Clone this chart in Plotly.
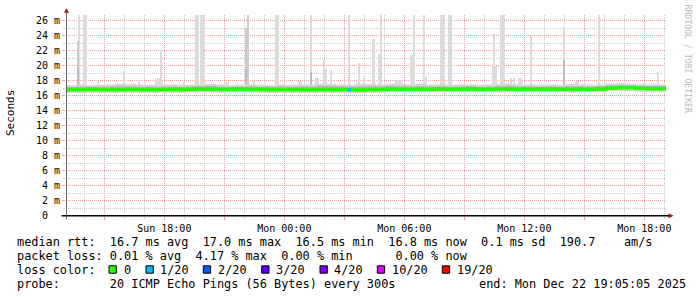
import plotly.graph_objects as go
import pandas as pd

W, H = 697, 297

# ---------------- data ----------------
START = "2025-12-21 13:05:05"
END = "2025-12-22 19:05:05"
SUN = "2025-12-21 "
MON = "2025-12-22 "

# 30-minute blocks starting at START
median_rtt = [
    16.78, 16.80, 16.82, 16.80, 16.78, 16.80, 16.83, 16.80, 16.78, 16.80, 16.82, 16.80,
    16.85, 16.88, 16.85, 16.82, 16.85, 16.88, 16.85, 16.82, 16.80, 16.80, 16.78, 16.78,
    16.78, 16.80, 16.78, 16.80, 16.78, 16.76, 16.80, 16.82, 16.85, 16.85, 16.85, 16.85,
    16.85, 16.88, 16.85, 16.85, 16.88, 16.85, 16.85, 16.88, 16.85, 16.85, 16.85, 16.85,
    16.85, 16.85, 16.83, 16.85, 16.85, 16.88, 17.00, 17.05, 17.05, 16.98, 16.93, 16.93,
]
smoke_lo = [
    16.38, 16.36, 16.40, 16.38, 16.36, 16.38, 16.40, 16.38, 16.36, 16.40, 16.38, 16.38,
    16.40, 16.42, 16.40, 16.38, 16.40, 16.42, 16.40, 16.38, 16.36, 16.38, 16.36, 16.36,
    16.36, 16.38, 16.36, 16.38, 16.34, 16.34, 16.38, 16.40, 16.42, 16.42, 16.40, 16.42,
    16.42, 16.44, 16.42, 16.42, 16.44, 16.42, 16.42, 16.44, 16.42, 16.42, 16.42, 16.42,
    16.42, 16.42, 16.40, 16.42, 16.42, 16.44, 16.56, 16.60, 16.60, 16.54, 16.50, 16.50,
]
smoke_mid = [
    17.15, 17.20, 17.18, 17.20, 17.22, 17.25, 17.22, 17.20, 17.18, 17.20, 17.22, 17.18,
    17.22, 17.25, 17.28, 17.22, 17.18, 17.20, 17.22, 17.20, 17.18, 17.22, 17.20, 17.22,
    17.22, 17.28, 17.25, 17.22, 17.20, 17.25, 17.25, 17.22, 17.28, 17.25, 17.22, 17.25,
    17.22, 17.22, 17.20, 17.22, 17.25, 17.20, 17.22, 17.25, 17.28, 17.22, 17.22, 17.20,
    17.22, 17.20, 17.25, 17.22, 17.20, 17.25, 17.35, 17.40, 17.38, 17.30, 17.28, 17.28,
]
smoke_hi = [
    17.40, 17.50, 17.40, 17.45, 17.50, 17.60, 17.55, 17.50, 17.45, 17.50, 17.50, 17.45,
    17.45, 17.50, 17.55, 17.50, 17.40, 17.45, 17.50, 17.45, 17.40, 17.50, 17.45, 17.50,
    17.50, 17.60, 17.55, 17.50, 17.45, 17.60, 17.55, 17.50, 17.60, 17.55, 17.50, 17.55,
    17.50, 17.50, 17.45, 17.50, 17.50, 17.45, 17.50, 17.55, 17.60, 17.50, 17.50, 17.45,
    17.50, 17.45, 17.55, 17.50, 17.45, 17.50, 17.60, 17.65, 17.60, 17.55, 17.50, 17.50,
]

# light grey spikes (max pings)
spike_sun_time = ["13:45", "14:00", "14:05", "14:40", "16:00", "16:45", "17:35", "17:40",
                  "17:45", "17:50", "19:00", "19:35", "19:40", "19:50", "19:55", "21:05",
                  "21:10", "22:30", "23:35", "23:40"]
spike_sun_top = [26.9, 26.9, 26.9, 17.9, 19.3, 18.1, 18.2, 18.3,
                 18.2, 22.1, 17.9, 26.9, 26.9, 26.9, 26.9, 17.8,
                 17.8, 17.9, 26.9, 26.9]
spike_mon_time = ["00:45", "00:50", "01:20", "01:35", "01:40", "02:00", "02:05", "02:20",
                  "03:15", "03:45", "04:00", "04:25", "04:30", "04:45", "04:50", "05:35",
                  "05:40", "05:45", "05:50", "06:20", "06:25", "06:30", "07:00", "07:05",
                  "07:50", "07:55", "08:00", "08:15", "08:20", "10:25", "10:30", "10:35",
                  "10:50", "10:55", "11:20", "11:30", "11:45", "11:50", "12:20", "14:00",
                  "14:35", "14:40", "15:45", "18:40"]
spike_mon_top = [18.0, 18.0, 26.9, 18.3, 18.3, 20.8, 19.6, 19.4,
                 26.9, 20.4, 18.5, 23.6, 23.6, 21.6, 26.9, 18.1,
                 18.1, 18.1, 18.1, 21.4, 21.4, 26.9, 26.9, 18.5,
                 26.9, 26.9, 17.9, 26.9, 26.9, 20.0, 24.2, 20.0,
                 26.9, 26.9, 18.3, 18.3, 18.3, 18.3, 24.0, 25.1,
                 18.0, 18.0, 26.9, 19.2]
# medium grey spikes
mid_spike_time = [SUN + "13:40", SUN + "22:05", SUN + "22:10"]
mid_spike_top = [23.3, 25.0, 26.9]
# darker inner parts of spikes
inner_spike_time = [SUN + "13:40", MON + "01:20", MON + "14:00", SUN + "22:05"]
inner_spike_top = [19.7, 19.1, 20.8, 19.5]

# packet-loss coloured median segment (1/20 loss)
loss_time = [MON + "03:10", MON + "03:20"]
loss_rtt = [16.76, 16.76]

y_ticks = list(range(0, 27, 2))
y_ticktext = ["0\u00a0\u00a0"] + [f"{v} m" for v in y_ticks[1:]]
x_ticks = [SUN + "15:00", SUN + "18:00", SUN + "21:00", MON + "00:00", MON + "03:00",
           MON + "06:00", MON + "09:00", MON + "12:00", MON + "15:00", MON + "18:00"]
x_ticktext = ["", "Sun 18:00", "", "Mon 00:00", "", "Mon 06:00", "", "Mon 12:00", "", "Mon 18:00"]

loss_labels = ["0", "1/20", "2/20", "3/20", "4/20", "10/20", "19/20"]
loss_colors = ["#26ff00", "#00b8ff", "#0059ff", "#5e00ff", "#7e00ff", "#dd00ff", "#ff0000"]

# ---------------- build ----------------
block_times = list(pd.date_range(START, periods=len(median_rtt), freq="30min"))
bx = block_times + [pd.Timestamp(END)]


def ext(a):
    return a + [a[-1]]


MONO = "DejaVu Sans Mono"
BASE = 17.0
SPIKE_W = 6 * 60 * 1000

fig = go.Figure()

spike_t = [SUN + t for t in spike_sun_time] + [MON + t for t in spike_mon_time]
spike_v = spike_sun_top + spike_mon_top
fig.add_bar(x=spike_t, y=[v - BASE for v in spike_v], base=BASE, width=SPIKE_W,
            marker=dict(color="#dcdcdc", line=dict(width=0)))
fig.add_bar(x=mid_spike_time, y=[v - BASE for v in mid_spike_top], base=BASE, width=SPIKE_W,
            marker=dict(color="#cccccc", line=dict(width=0)))
fig.add_bar(x=inner_spike_time, y=[v - BASE for v in inner_spike_top], base=BASE, width=SPIKE_W,
            marker=dict(color="#bdbdbd", line=dict(width=0)))

# smoke band
fig.add_scatter(x=bx, y=ext(smoke_lo), mode="lines", line=dict(width=0, shape="hv"))
fig.add_scatter(x=bx, y=ext(smoke_hi), mode="lines", line=dict(width=0, shape="hv"),
                fill="tonexty", fillcolor="#d6d6d6")
fig.add_scatter(x=bx, y=ext(median_rtt), mode="lines", line=dict(width=0, shape="hv"))
fig.add_scatter(x=bx, y=ext(smoke_mid), mode="lines", line=dict(width=0, shape="hv"),
                fill="tonexty", fillcolor="#b2b2b2")

# median line
fig.add_scatter(x=bx, y=ext(median_rtt), mode="lines",
                line=dict(width=3.5, color=loss_colors[0], shape="hv"))
fig.add_scatter(x=loss_time, y=loss_rtt, mode="lines",
                line=dict(width=3.5, color=loss_colors[1], shape="hv"))


def px(x):
    return x / W


def py(y):
    return 1 - y / H


MAJOR = "#e9a3a3"
MINOR = "#c8c8c8"

fig.update_layout(
    width=W, height=H, autosize=False,
    margin=dict(l=0, r=0, t=0, b=0, pad=0, autoexpand=False),
    paper_bgcolor="white", plot_bgcolor="white",
    showlegend=False, barmode="overlay", bargap=0,
    font=dict(family=MONO, color="black"),
    xaxis=dict(
        type="date", range=[START, END], domain=[px(66), px(666)],
        tickmode="array", tickvals=x_ticks, ticktext=x_ticktext,
        showgrid=True, gridcolor=MAJOR, griddash="1px,1px", gridwidth=1,
        ticks="outside", ticklen=3, tickcolor=MAJOR,
        minor=dict(tickmode="linear", tick0=SUN + "14:00", dtick=3600000,
                   showgrid=True, gridcolor=MINOR, griddash="1px,1px",
                   ticks="outside", ticklen=2, tickcolor=MINOR),
        showline=False, zeroline=False, fixedrange=True, automargin=False,
        tickfont=dict(family=MONO, size=10, color="black"),
    ),
    yaxis=dict(
        range=[0, 26.76], domain=[py(215.7), py(15)],
        tickmode="array", tickvals=y_ticks, ticktext=y_ticktext,
        showgrid=True, gridcolor=MAJOR, griddash="1px,1px", gridwidth=1,
        ticks="outside", ticklen=3, tickcolor=MAJOR,
        minor=dict(tickmode="linear", tick0=0, dtick=1,
                   showgrid=True, gridcolor=MINOR, griddash="1px,1px",
                   ticks="outside", ticklen=2, tickcolor=MINOR),
        showline=False, zeroline=False, fixedrange=True, automargin=False,
        tickfont=dict(family=MONO, size=10, color="black"),
    ),
)

shapes = []
# axes with arrows
shapes.append(dict(type="line", xref="paper", yref="paper", x0=px(61.7), x1=px(669), y0=py(215.7), y1=py(215.7),
                   line=dict(color="black", width=1.5)))
shapes.append(dict(type="line", xref="paper", yref="paper", x0=px(66.5), x1=px(66.5), y0=py(219.5), y1=py(12),
                   line=dict(color="#666666", width=1)))
ARROW = "#9b1b1b"
shapes.append(dict(type="path", xref="paper", yref="paper",
                   path=f"M {px(64.0)},{py(12.8)} L {px(69.0)},{py(12.8)} L {px(66.5)},{py(8.3)} Z",
                   fillcolor=ARROW, line=dict(width=0)))
shapes.append(dict(type="path", xref="paper", yref="paper",
                   path=f"M {px(668.5)},{py(213.2)} L {px(668.5)},{py(218.2)} L {px(673.5)},{py(215.7)} Z",
                   fillcolor=ARROW, line=dict(width=0)))

annotations = []


def text(x, y, s, size=11.86, color="black", anchor="left", angle=0):
    annotations.append(dict(xref="paper", yref="paper", x=px(x), y=py(y), text=s.replace(" ", "\u00a0"),
                            showarrow=False, xanchor=anchor, yanchor="middle", textangle=angle,
                            font=dict(family=MONO, size=size, color=color), borderpad=0))


LX = 15.5
text(LX, 241.5, "median rtt:  16.7 ms avg  17.0 ms max  16.5 ms min  16.8 ms now  0.1 ms sd  190.7    am/s")
text(LX, 255.5, "packet loss: 0.01 % avg  4.17 % max  0.00 % min      0.00 % now")
text(LX, 269.5, "loss color:")
text(LX, 283.5, "probe:       20 ICMP Echo Pings (56 Bytes) every 300s")
text(477.5, 283.5, "end: Mon Dec 22 19:05:05 2025")

sw_x = [109, 146, 203.3, 261.7, 320, 377.3, 442.3]
lab_x = [123.3, 160, 217.3, 276, 334, 391.7, 456.7]
for sx, lx, lab, col in zip(sw_x, lab_x, loss_labels, loss_colors):
    shapes.append(dict(type="rect", xref="paper", yref="paper", x0=px(sx), x1=px(sx + 7.3),
                       y0=py(265.8), y1=py(273.2), fillcolor=col, line=dict(color="black", width=1)))
    text(lx - 0.8, 269.5, lab)

text(11, 113, "Seconds", size=11, angle=-90, anchor="center")
text(687.5, 59, "RRDTOOL / TOBI OETIKER", size=8.2, color="#bbbbbb", angle=90, anchor="center")

fig.update_layout(shapes=shapes, annotations=annotations)
fig.write_html("out.html", config={"displayModeBar": False, "staticPlot": True})
